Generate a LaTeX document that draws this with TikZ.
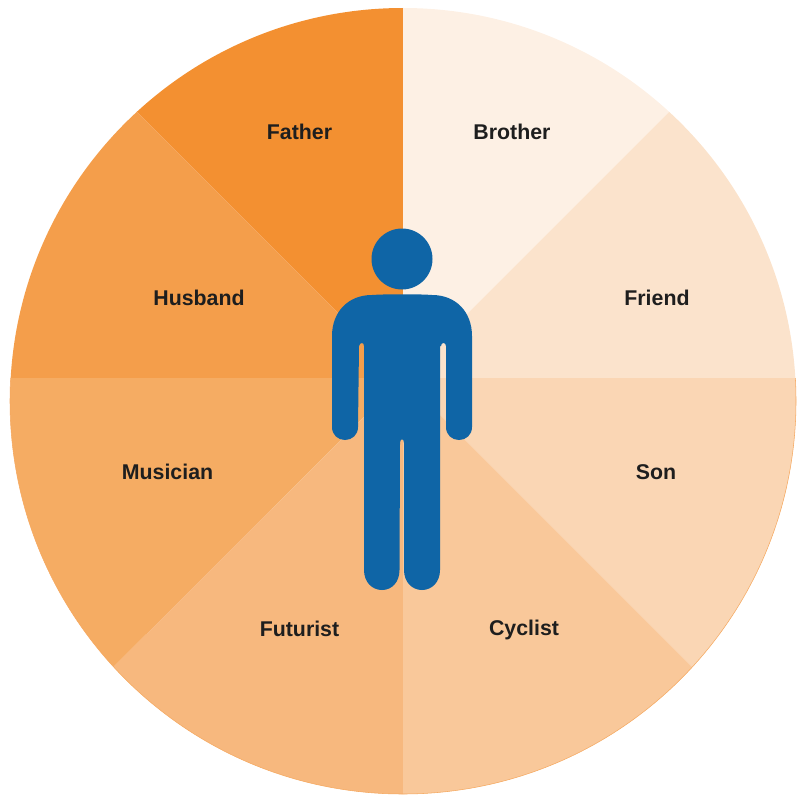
\documentclass[tikz,border=0pt]{standalone}
\usepackage{fontspec}
\setmainfont{Liberation Sans}
\definecolor{fatherc}{HTML}{F39031}
\definecolor{husbandc}{HTML}{F49E4B}
\definecolor{musicianc}{HTML}{F5AC63}
\definecolor{futuristc}{HTML}{F7B87E}
\definecolor{cyclistc}{HTML}{F9C89A}
\definecolor{sonc}{HTML}{FAD6B4}
\definecolor{friendc}{HTML}{FBE3CC}
\definecolor{brotherc}{HTML}{FDF0E4}
\definecolor{rimc}{HTML}{F5A85F}
\definecolor{personc}{HTML}{0F65A6}
\definecolor{labelc}{HTML}{1E1E1E}
\tikzset{
	rolelabel/.style={font=\fontsize{16}{18}\selectfont\bfseries, text=labelc, inner sep=0pt},
	person/.style={fill=personc, draw=none}
}

\begin{document}
\begin{tikzpicture}[x=0.75pt, y=-0.75pt]
				\useasboundingbox (0, 0) rectangle (799, 799);
				\coordinate (m) at (403, 378);
				\begin{scope}
					\clip (403, 401) circle (393);
					\fill[fatherc] (m) -- (37, 12) -- (403, -100) -- cycle;
					\fill[brotherc] (m) -- (403, -100) -- (769, 12) -- cycle;
					\fill[husbandc] (m) -- (37, 12) -- (-100, 12) -- (-100, 378) -- cycle;
					\fill[friendc] (m) -- (769, 12) -- (900, 12) -- (900, 378) -- cycle;
					\fill[musicianc] (m) -- (-100, 378) -- (-100, 880) -- cycle;
					\fill[sonc] (m) -- (900, 378) -- (900, 875) -- cycle;
					\fill[futuristc] (m) -- (-100, 880) -- (403, 880) -- cycle;
					\fill[cyclistc] (m) -- (403, 880) -- (900, 875) -- cycle;
				\end{scope}
				% rim only shows on the lower half
				\begin{scope}
					\clip (0, 378) rectangle (799, 799);
					\draw[rimc, line width=0.4pt] (403, 401) circle (393);
				\end{scope}
				\node[rolelabel] (father) at (299.5, 132) {Father};
				\node[rolelabel] (brother) at (512, 132) {Brother};
				\node[rolelabel] (husband) at (199, 298) {Husband};
				\node[rolelabel] (friend) at (657, 298) {Friend};
				\node[rolelabel] (musician) at (167.5, 472) {Musician};
				\node[rolelabel] (son) at (656, 472) {Son};
				\node[rolelabel] (futurist) at (299.5, 629) {Futurist};
				\node[rolelabel] (cyclist) at (524, 630) {Cyclist};
				% figure in the middle
				\fill[person] (402, 259) circle (30.5);
				\fill[person] (372, 295) .. controls (385, 294) and (420, 294) .. (432, 295)
					.. controls (456, 295) and (472, 312) .. (472, 336)
					-- (472, 427) .. controls (472, 435) and (466, 440) .. (459, 440)
					.. controls (452, 440) and (446, 435) .. (446, 427)
					-- (446, 346) .. controls (446, 342) and (441, 342) .. (441, 346)
					-- (440, 346) -- (440, 570) .. controls (440, 582) and (432, 590) .. (422, 590)
					.. controls (412, 590) and (404, 582) .. (404, 570)
					-- (404, 443) .. controls (404, 438) and (400, 438) .. (400, 443)
					-- (399.5, 570) .. controls (399.5, 582) and (392, 590) .. (382, 590)
					.. controls (372, 590) and (364, 582) .. (364, 570)
					-- (364, 346) .. controls (364, 342) and (360, 342) .. (359, 346)
					-- (358, 427) .. controls (358, 435) and (352, 440) .. (345, 440)
					.. controls (338, 440) and (332, 435) .. (332, 427)
					-- (332, 336) .. controls (332, 312) and (348, 295) .. (372, 295) -- cycle;
			\end{tikzpicture}
\end{document}
